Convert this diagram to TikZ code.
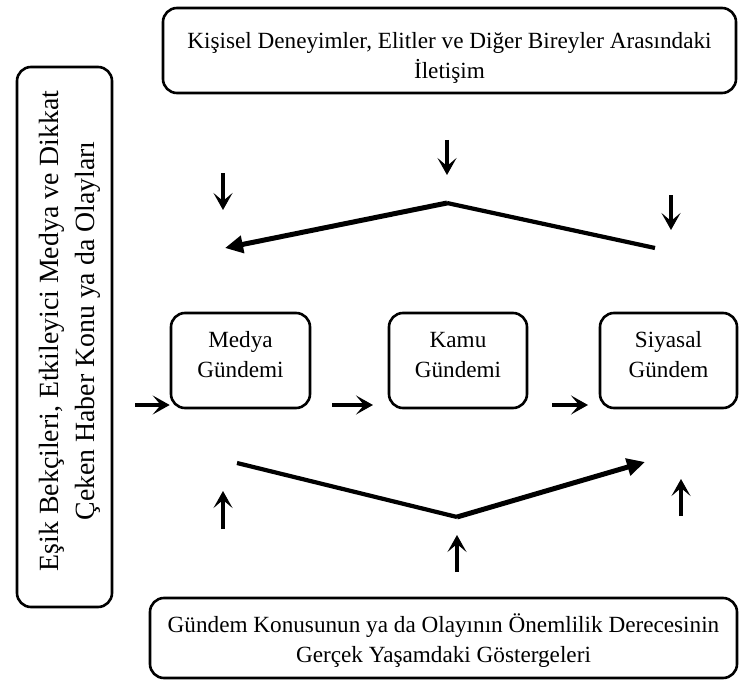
\documentclass[tikz,border=0pt]{standalone}
\usepackage{fontspec}
\setmainfont{Liberation Serif}
\usetikzlibrary{arrows.meta}
\begin{document}
\begin{tikzpicture}[x=1pt,y=-1pt,
  box/.style={draw,line width=2.6pt,rounded corners=14pt,inner sep=0pt},
  label/.style={align=center,inner sep=0pt,font=\fontsize{23.2}{30}\selectfont},
  smallarrow/.style={line width=3.8pt,-{Stealth[length=17pt,width=19pt,inset=8pt]}},
  chevron/.style={line width=4.2pt},
  chevronhead/.style={line width=5pt,-{Triangle[length=18pt,width=17pt]}}]
\useasboundingbox (0,0) rectangle (739,682);

% boxes and their texts
\node[box,minimum width=573pt,minimum height=85pt] (top) at (449.5,50.5) {};
\node[label] (toptext) at (449.5,58)
  {Kişisel Deneyimler, Elitler ve Diğer Bireyler Arasındaki\\İletişim};

\node[box,minimum width=95pt,minimum height=540pt] (gate) at (64.5,337) {};
\node[label,rotate=90,font=\fontsize{27.8}{35.5}\selectfont] (gatetext) at (70,331)
  {Eşik Bekçileri, Etkileyici Medya ve Dikkat\\Çeken Haber Konu ya da Olayları};

\node[box,minimum width=139pt,minimum height=95pt] (medya) at (240.5,360.5) {};
\node[label] (medyatext) at (240.5,356) {\strut Medya\\\strut Gündemi};
\node[box,minimum width=138pt,minimum height=95pt] (kamu) at (458,360.5) {};
\node[label] (kamutext) at (458,356) {\strut Kamu\\\strut Gündemi};
\node[box,minimum width=137pt,minimum height=95pt] (siyasal) at (668.5,360.5) {};
\node[label] (siyasaltext) at (668.5,356) {\strut Siyasal\\\strut Gündem};

\node[box,minimum width=587pt,minimum height=80pt] (bottom) at (443.5,638) {};
\node[label] (bottomtext) at (443.5,641)
  {Gündem Konusunun ya da Olayının Önemlilik Derecesinin\\Gerçek Yaşamdaki Göstergeleri};

% horizontal arrows along the middle row
\coordinate (h1) at (135,405);
\coordinate (h2) at (332,405);
\coordinate (h3) at (552,405);
\draw[smallarrow] (h1) -- (medya.west |- h1);
\draw[smallarrow] (h2) -- ++(41,0) coordinate (h2e);
\draw[smallarrow] (h3) -- ++(36,0) coordinate (h3e);

% arrows coming down from the top box
\coordinate (d1) at (223,173);
\coordinate (d2) at (447,140);
\coordinate (d3) at (671,195);
\draw[smallarrow] (d1) -- ++(0,37) coordinate (d1e);
\draw[smallarrow] (d2) -- ++(0,35) coordinate (d2e);
\draw[smallarrow] (d3) -- ++(0,35) coordinate (d3e);

% top chevron
\coordinate (tr) at (655,248);
\coordinate (ta) at (447,203);
\coordinate (tl) at (225,248);
\draw[chevron] (tr) -- (ta);
\draw[chevronhead] (ta) -- (tl);

% bottom chevron
\coordinate (bl) at (237,463);
\coordinate (ba) at (457,517);
\coordinate (br) at (645,462);
\draw[chevron] (bl) -- (ba);
\draw[chevronhead] (ba) -- (br);

% arrows going up from the bottom box
\coordinate (u1) at (223,529);
\coordinate (u2) at (457,572);
\coordinate (u3) at (681,516);
\draw[smallarrow] (u1) -- ++(0,-38) coordinate (u1e);
\draw[smallarrow] (u2) -- ++(0,-37) coordinate (u2e);
\draw[smallarrow] (u3) -- ++(0,-37) coordinate (u3e);
\end{tikzpicture}
\end{document}
